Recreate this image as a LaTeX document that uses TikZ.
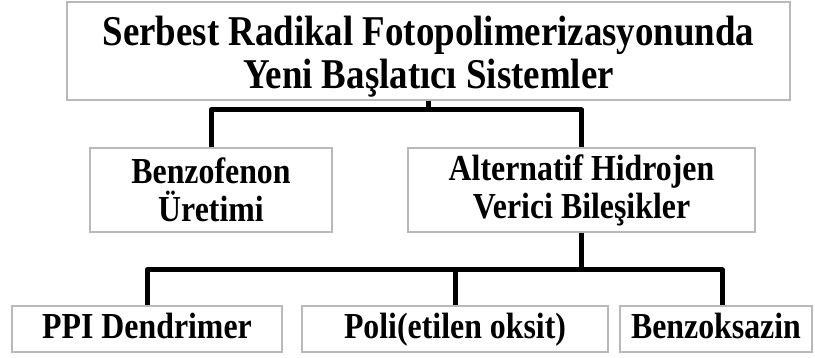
\documentclass[tikz,border=0pt]{standalone}
\usepackage{fontspec}
\setmainfont[FakeStretch=0.87]{Liberation Serif}
\usetikzlibrary{shadows}
\tikzstyle{kutu} = [draw=gray!55, line width=0.6pt, fill=white, align=center, inner sep=0pt, font=\bfseries\fontsize{18.3}{19}\selectfont, drop shadow={shadow xshift=0.7pt, shadow yshift=-0.7pt, fill=gray!90, opacity=1}]
\tikzstyle{tek} = [kutu, minimum height=23pt, text height=13pt, text depth=4pt]
\tikzstyle{hat} = [line width=2.5pt, line join=round]

\begin{document}
\begin{tikzpicture}[x=0.5pt,y=-0.5pt]
\useasboundingbox (0,0) rectangle (815,358);

% boxes
\node[kutu, minimum width=361.5pt, minimum height=49pt, text height=41.5pt, font=\bfseries\fontsize{21.2}{21.5}\selectfont] (ana) at (428.5,51) {Serbest Radikal Fotopolimerizasyonunda\\Yeni Başlatıcı Sistemler};

\node[kutu, minimum width=121pt, minimum height=42pt] (benzo) at (211,190) {Benzofenon\\Üretimi};
\node[kutu, minimum width=173.5pt, minimum height=42pt] (alt) at (581.5,190) {Alternatif Hidrojen\\Verici Bileşikler};

\node[tek, minimum width=135pt] (ppi) at (147,329) {PPI Dendrimer};
\node[tek, minimum width=153pt] (peo) at (455,329) {Poli(etilen oksit)};
\node[tek, minimum width=96pt] (bz) at (716,329) {Benzoksazin};

% connectors
\coordinate (b1) at (428.5,110);
\coordinate (b2) at (581.5,270);
\draw[hat] (ana.south) -- (b1);
\draw[hat] (benzo.north) |- (b1) -| (alt.north);
\draw[hat] (alt.south) -- (b2);
\draw[hat] (ppi.north) |- (b2) -| ([xshift=3pt]bz.north);
\draw[hat] (peo.north) -- (peo.north |- b2);
\end{tikzpicture}
\end{document}
